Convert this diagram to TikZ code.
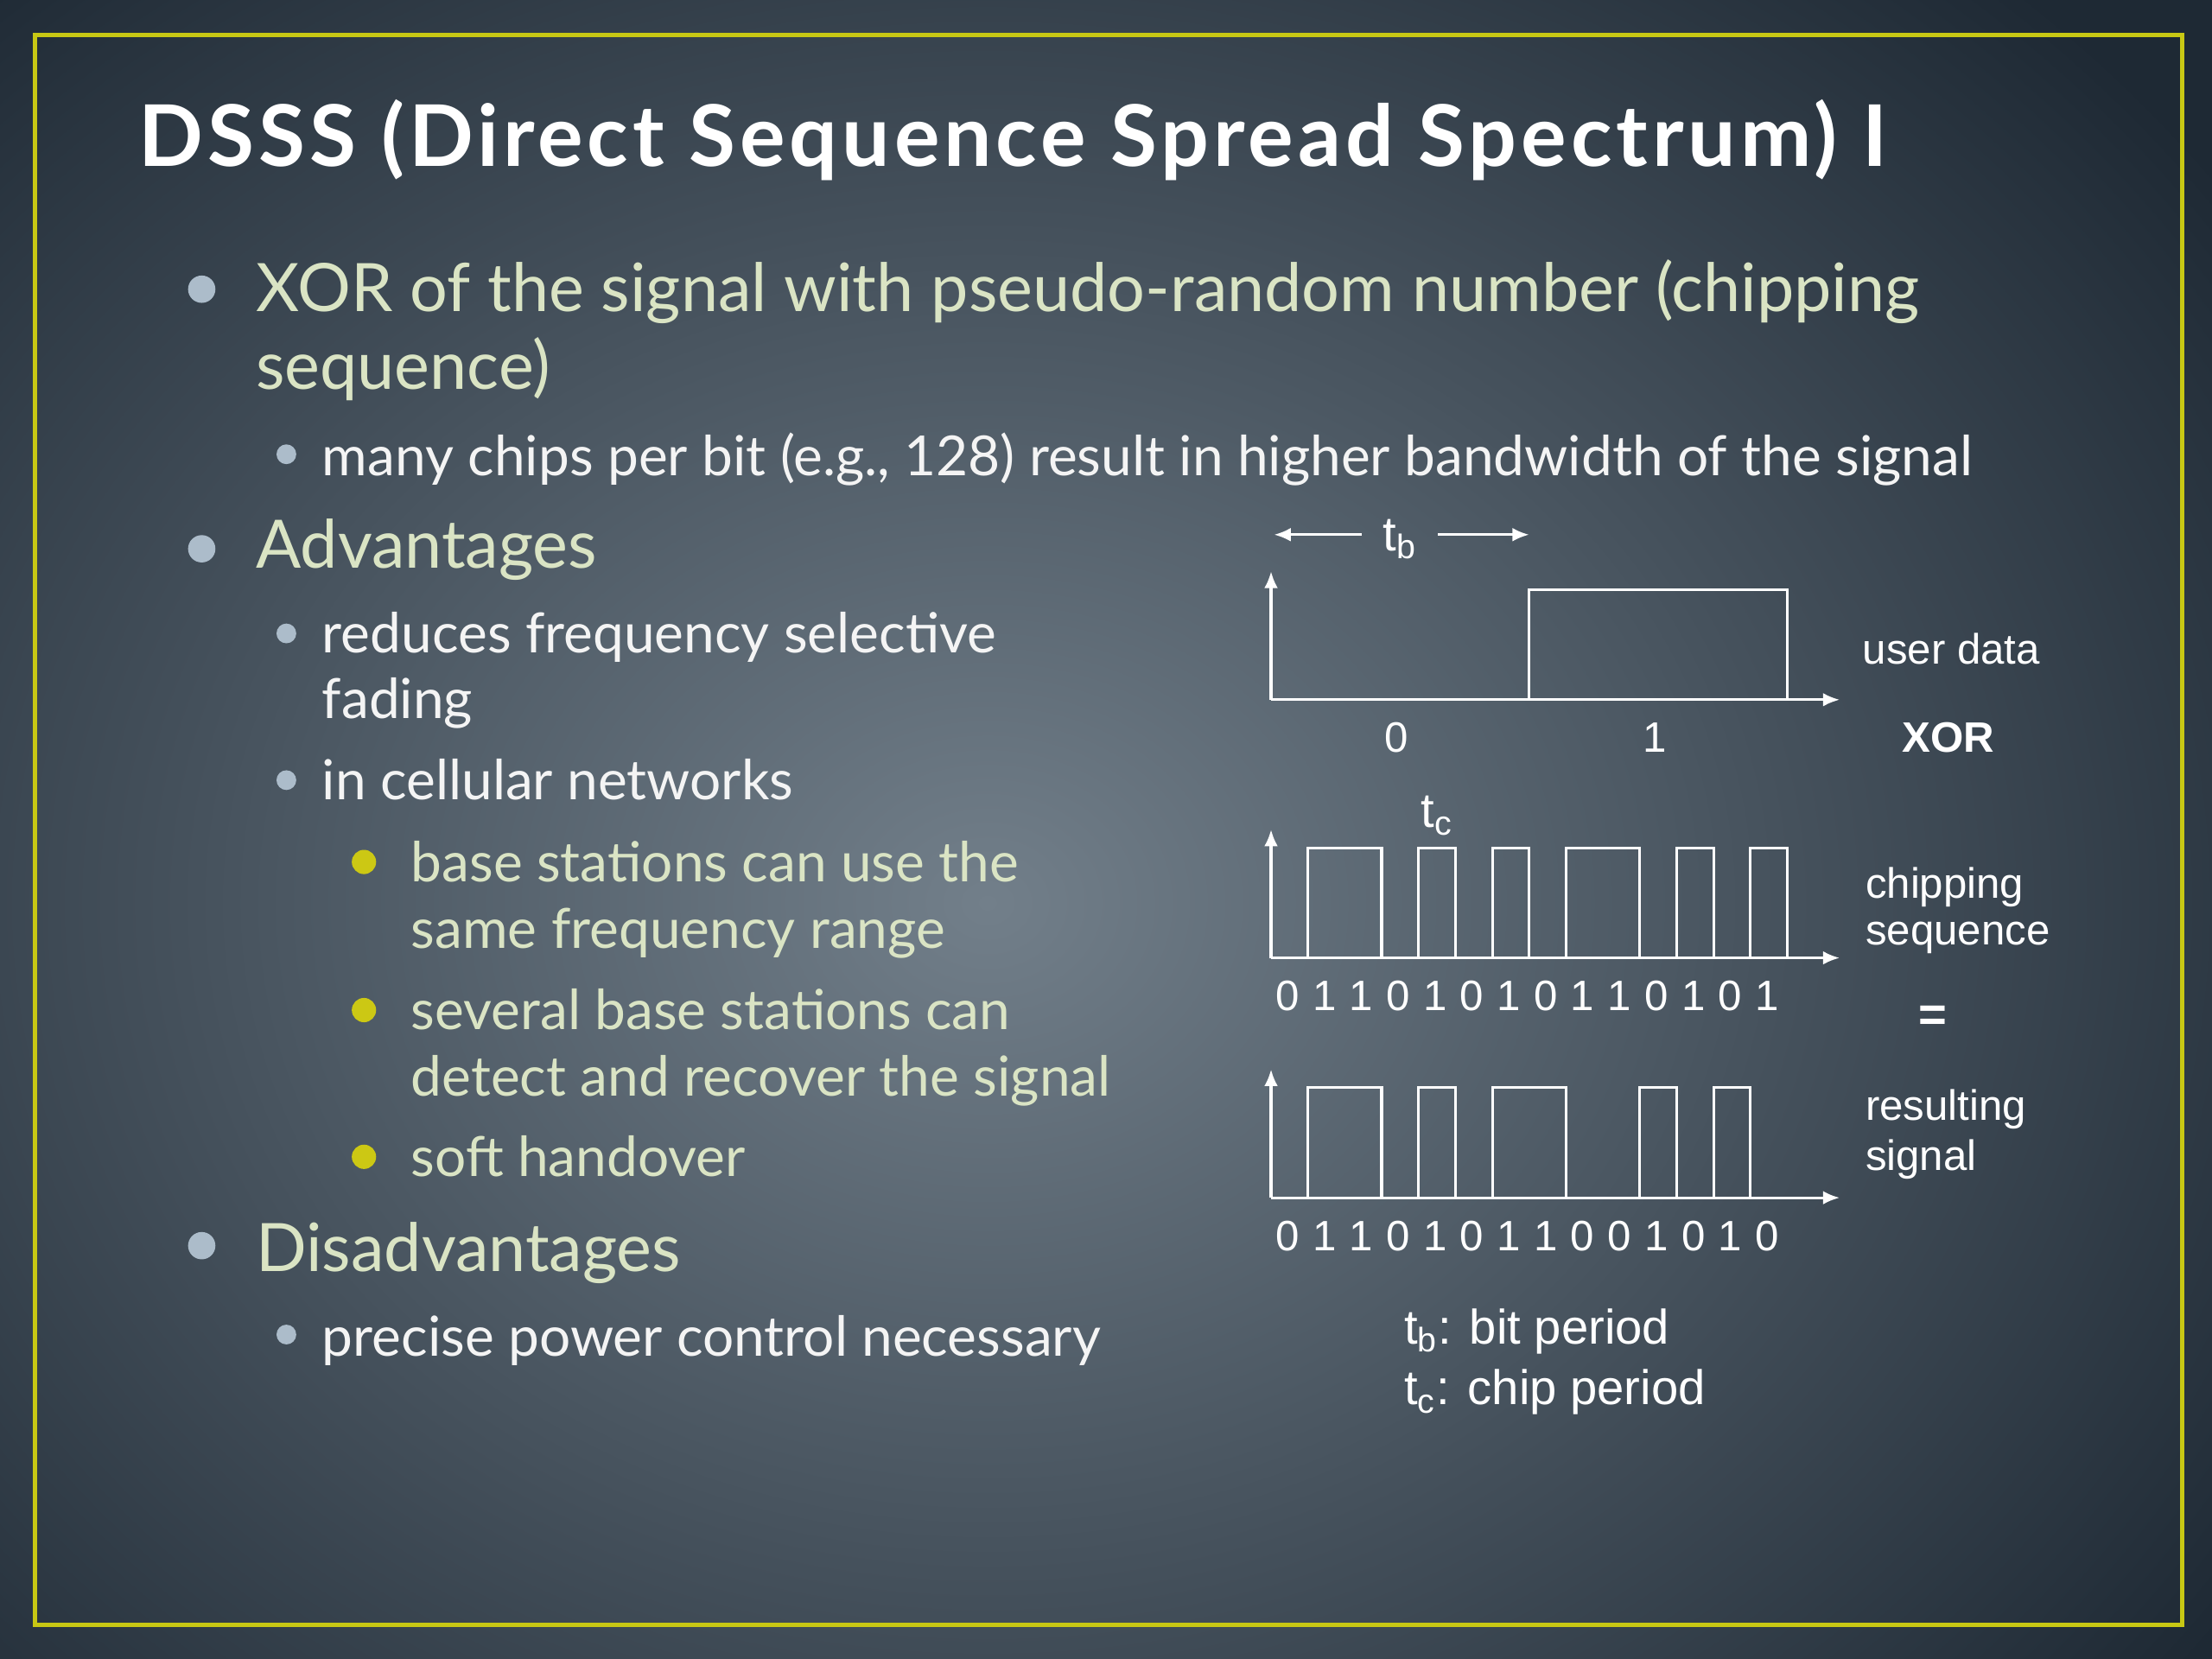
\documentclass[tikz,border=0pt]{standalone}
\usepackage{fontspec}
\setmainfont{Lato}
\newfontfamily\diagfont{Liberation Sans}
\usetikzlibrary{positioning, arrows.meta}
\definecolor{bgdark}{RGB}{30,41,52}
\definecolor{bglight}{RGB}{114,127,138}
\definecolor{frameyellow}{RGB}{200,200,20}
\definecolor{textgreen}{RGB}{218,228,196}
\definecolor{textwhite}{RGB}{244,244,244}
\definecolor{bulletgray}{RGB}{172,188,202}
\definecolor{bulletyellow}{RGB}{204,200,20}
\tikzset{
  slide/.style={x=0.016327cm, y=-0.016327cm}, % one unit is one pixel of the slide
  title/.style={anchor=base west, inner sep=0pt, text=white,
    font=\fontsize{28}{32}\selectfont\bfseries\addfontfeatures{LetterSpace=5}},
  lvlone/.style={anchor=base west, inner sep=0pt, text=textgreen, font=\fontsize{22}{26}\selectfont},
  lvltwo/.style={anchor=base west, inner sep=0pt, text=textwhite, font=\fontsize{18.2}{21}\selectfont},
  lvlthree/.style={anchor=base west, inner sep=0pt, text=textgreen, font=\fontsize{18.2}{21}\selectfont},
  dotone/.style={circle, fill=bulletgray, inner sep=0pt, minimum size=9},
  dottwo/.style={circle, fill=bulletgray, inner sep=0pt, minimum size=6.5},
  dotthree/.style={circle, fill=bulletyellow, inner sep=0pt, minimum size=8},
  wave/.style={draw=white, line width=0.9pt},
  axis/.style={wave, -{Latex[length=5.5pt, width=4.5pt]}},
  lbl/.style={inner sep=0pt, text=white, font=\diagfont\fontsize{14}{17}\selectfont},
  bigl/.style={inner sep=0pt, text=white, font=\diagfont\fontsize{16}{19}\selectfont},
}
\begin{document}
\begin{tikzpicture}[slide]
% background and frame
\fill[bgdark] (0,0) rectangle (1568,1176);
\begin{scope}
  \clip (0,0) rectangle (1568,1176);
  \shade[inner color=bglight, outer color=bgdark] (700,640) ellipse (17.5cm and 14.5cm);
\end{scope}
\useasboundingbox (0,0) rectangle (1568,1176);
\draw[frameyellow, line width=1.5pt] (25,25) rectangle (1547,1152);

\node[title] (title) at (98,118) {DSSS (Direct Sequence Spread Spectrum) I};

% bullet text
\node[dotone] (b1) at (143,205) {};
\node[lvlone] (xor) at (181,221) {XOR of the signal with pseudo-random number (chipping};
\node[lvlone] (xorb) at (181,276) {sequence)};
\node[dottwo] (b11) at (203,322) {};
\node[lvltwo] (chips) at (228,337) {many chips per bit (e.g., 128) result in higher bandwidth of the signal};
\node[dotone] (b2) at (143,389) {};
\node[lvlone] (adv) at (181,403) {Advantages};
\node[dottwo] (b21) at (203,449) {};
\node[lvltwo] (reduce) at (228,463) {reduces frequency selective};
\node[lvltwo] (fading) at (228,509) {fading};
\node[dottwo] (b22) at (203,553) {};
\node[lvltwo] (cell) at (228,567) {in cellular networks};
\node[dotthree] (b221) at (258,611) {};
\node[lvlthree] (base) at (291,625) {base stations can use the};
\node[lvlthree] (same) at (291,672) {same frequency range};
\node[dotthree] (b222) at (258,716) {};
\node[lvlthree] (several) at (291,730) {several base stations can};
\node[lvlthree] (detect) at (291,777) {detect and recover the signal};
\node[dotthree] (b223) at (258,820) {};
\node[lvlthree] (soft) at (291,834) {soft handover};
\node[dotone] (b3) at (143,883) {};
\node[lvlone] (disadv) at (181,901) {Disadvantages};
\node[dottwo] (b31) at (203,946) {};
\node[lvltwo] (power) at (228,961) {precise power control necessary};

% user data, one unit across is one chip
\begin{scope}[shift={(901,496)}, x=0.42679cm]
  \coordinate (uo) at (0,0);
  \coordinate (uy) at (0,-91);
  \coordinate (ux) at (15.42,0);
  \draw[axis] (uo) -- (uy);
  \draw[axis] (uo) -- (ux);
  \draw[wave] (7,0) rectangle (14,-78);
  \node[bigl] (tb) at (3.5,-114) {t\textsubscript{b}};
  \coordinate (tbla) at (2.45,-117);
  \coordinate (tbl) at (0.08,-117);
  \coordinate (tbra) at (4.53,-117);
  \coordinate (tbr) at (7,-117);
  \draw[axis] (tbla) -- (tbl);
  \draw[axis] (tbra) -- (tbr);
  \node[lbl] (bit0) at (3.4,27) {0};
  \node[lbl] (bit1) at (10.4,27) {1};
\end{scope}
\node[lbl, anchor=west] (user) at (1320,460) {user data};
\node[lbl, font=\diagfont\fontsize{14}{17}\selectfont\bfseries] (xorop) at (1381,523) {XOR};

% chipping sequence
\begin{scope}[shift={(901,679)}, x=0.42679cm]
  \coordinate (co) at (0,0);
  \coordinate (cy) at (0,-91);
  \coordinate (cx) at (15.42,0);
  \draw[axis] (co) -- (cy);
  \draw[axis] (co) -- (cx);
  \foreach \a/\b in {1/3, 4/5, 6/7, 8/10, 11/12, 13/14}
    \draw[wave] (\a,0) rectangle (\b,-78);
  \node[bigl] (tc) at (4.5,-101) {t\textsubscript{c}};
  \foreach \d [count=\i from 0] in {0,1,1,0,1,0,1,0,1,1,0,1,0,1}
    \node[lbl] (cd\i) at (\i+0.45,27) {\d};
\end{scope}
\node[lbl, anchor=west] (chipping) at (1322,629) {chipping};
\node[lbl, anchor=west] (sequence) at (1322,665) {sequence};
\node[lbl, font=\diagfont\fontsize{16}{19}\selectfont\bfseries] (equals) at (1370,722) {=};

% resulting signal
\begin{scope}[shift={(901,849)}, x=0.42679cm]
  \coordinate (ro) at (0,0);
  \coordinate (ry) at (0,-91);
  \coordinate (rx) at (15.42,0);
  \draw[axis] (ro) -- (ry);
  \draw[axis] (ro) -- (rx);
  \foreach \a/\b in {1/3, 4/5, 6/8, 10/11, 12/13}
    \draw[wave] (\a,0) rectangle (\b,-78);
  \foreach \d [count=\i from 0] in {0,1,1,0,1,0,1,1,0,0,1,0,1,0}
    \node[lbl] (rd\i) at (\i+0.45,27) {\d};
\end{scope}
\node[lbl, anchor=west] (resulting) at (1322,786) {resulting};
\node[lbl, anchor=west] (signal) at (1322,822) {signal};

% legend
\node[bigl, anchor=west] (legb) at (995,944) {t\textsubscript{b}: bit period};
\node[bigl, anchor=west] (legc) at (995,987) {t\textsubscript{c}: chip period};
\end{tikzpicture}
\end{document}
